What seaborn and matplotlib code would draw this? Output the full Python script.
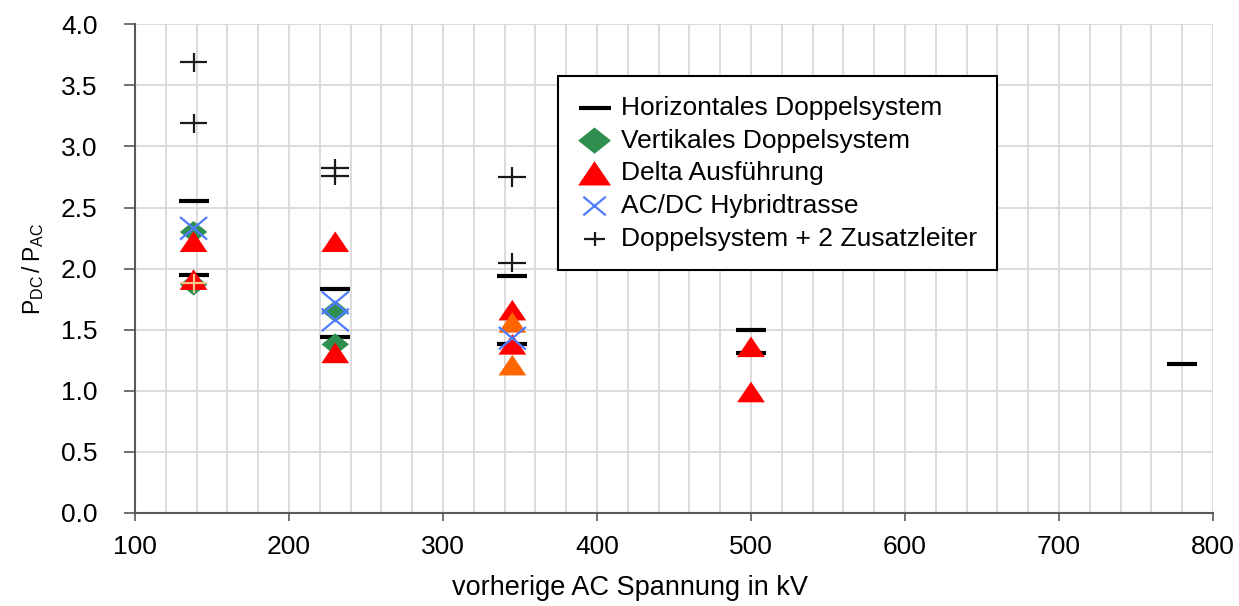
import numpy as np
import pandas as pd
import matplotlib
matplotlib.use('Agg')
import matplotlib.pyplot as plt
from matplotlib.path import Path
from matplotlib.ticker import MultipleLocator, FormatStrFormatter
import seaborn as sns

# Werte (kV, P_DC/P_AC)
hor_kv = [138, 138, 230, 230, 345, 345, 500, 500, 780]
hor_ratio = [2.55, 1.95, 1.83, 1.44, 1.94, 1.38, 1.50, 1.31, 1.22]

ver_kv = [138, 138, 230, 230]
ver_ratio = [2.30, 1.87, 1.65, 1.38]

delta_kv = [138, 138, 230, 230, 345, 345, 500, 500]
delta_ratio = [2.22, 1.91, 2.22, 1.31, 1.66, 1.38, 1.36, 0.99]

delta2_kv = [345, 345]
delta2_ratio = [1.56, 1.21]

hyb_kv = [138, 230, 230, 345]
hyb_ratio = [2.33, 1.72, 1.58, 1.43]

zus_kv = [138, 138, 230, 230, 345, 345]
zus_ratio = [3.69, 3.19, 2.82, 2.76, 2.75, 2.05]

zus2_kv = [138]
zus2_ratio = [1.88]

labels = ['Horizontales Doppelsystem', 'Vertikales Doppelsystem', 'Delta Ausführung',
          'AC/DC Hybridtrasse', 'Doppelsystem + 2 Zusatzleiter']

sns.set_style('white')
plt.rcParams['font.family'] = ['Liberation Sans', 'DejaVu Sans']
plt.rcParams['mathtext.fontset'] = 'custom'
plt.rcParams['mathtext.rm'] = 'Liberation Sans'
plt.rcParams['text.color'] = 'black'
plt.rcParams['axes.labelcolor'] = 'black'
plt.rcParams['xtick.color'] = 'black'
plt.rcParams['ytick.color'] = 'black'

# Marker etwas breiter als hoch, wie im Original
tri = Path([(-1.35, -1), (1.35, -1), (0, 1), (-1.35, -1)],
           [Path.MOVETO, Path.LINETO, Path.LINETO, Path.CLOSEPOLY])
dia = Path([(0, 1), (1.25, 0), (0, -1), (-1.25, 0), (0, 1)],
           [Path.MOVETO, Path.LINETO, Path.LINETO, Path.LINETO, Path.CLOSEPOLY])
cross = Path([(-1.2, -1), (1.2, 1), (-1.2, 1), (1.2, -1)],
             [Path.MOVETO, Path.LINETO, Path.MOVETO, Path.LINETO])
plus = Path([(-1.45, 0), (1.45, 0), (0, -1), (0, 1)],
            [Path.MOVETO, Path.LINETO, Path.MOVETO, Path.LINETO])

fig = plt.figure(figsize=(12.39, 6.06), dpi=100)
ax = fig.add_axes([0.109, 0.1535, 0.870, 0.8065])

sns.scatterplot(x=hor_kv, y=hor_ratio, marker='_', s=460, color='black',
                linewidth=3, label=labels[0], ax=ax, zorder=3)
sns.scatterplot(x=ver_kv, y=ver_ratio, marker=dia, s=390, color='#2f8f4f',
                edgecolor='none', linewidth=0, label=labels[1], ax=ax, zorder=4)
sns.scatterplot(x=delta_kv, y=delta_ratio, marker=tri, s=400, color='#ff0000',
                edgecolor='none', linewidth=0, label=labels[2], ax=ax, zorder=5)
sns.scatterplot(x=delta2_kv, y=delta2_ratio, marker=tri, s=400, color='#ff6600',
                edgecolor='none', linewidth=0, legend=False, ax=ax, zorder=5)
sns.scatterplot(x=hyb_kv, y=hyb_ratio, marker=cross, s=380, facecolor='none',
                edgecolor='#4f7cff', linewidth=1.6, label=labels[3], ax=ax, zorder=6)
sns.scatterplot(x=zus_kv, y=zus_ratio, marker=plus, s=400, facecolor='none',
                edgecolor='#1a1a1a', linewidth=1.6, label=labels[4], ax=ax, zorder=7)
sns.scatterplot(x=zus2_kv, y=zus2_ratio, marker=plus, s=400, facecolor='none',
                edgecolor='#f3c48c', linewidth=1.6, legend=False, ax=ax, zorder=7)

ax.set_xlim(100, 800)
ax.set_ylim(0, 4.0)
ax.xaxis.set_major_locator(MultipleLocator(100))
ax.xaxis.set_minor_locator(MultipleLocator(20))
ax.yaxis.set_major_locator(MultipleLocator(0.5))
ax.yaxis.set_major_formatter(FormatStrFormatter('%.1f'))
ax.grid(True, which='both', axis='x', color='#d9d9d9', linewidth=1.3)
ax.grid(True, which='major', axis='y', color='#d9d9d9', linewidth=1.3)
ax.set_axisbelow(True)

for side in ['top', 'right']:
    ax.spines[side].set_visible(False)
for side in ['left', 'bottom']:
    ax.spines[side].set_color('#595959')
    ax.spines[side].set_linewidth(1.5)

ax.tick_params(axis='y', which='major', direction='out', length=8, width=1.2,
               color='#595959', labelsize=19, pad=19, left=True)
ax.tick_params(axis='x', which='major', direction='out', length=6, width=1.2,
               color='#595959', labelsize=19, pad=10, bottom=True)
ax.tick_params(axis='x', which='minor', length=0)

ax.set_xlabel('vorherige AC Spannung in kV', fontsize=19.5)
ax.xaxis.set_label_coords(0.459, -0.127)
ax.set_ylabel(r'$\mathregular{P_{DC}\,/\,P_{AC}}$', fontsize=16.5)
ax.yaxis.set_label_coords(-0.083, 0.5)

leg = ax.legend(loc='upper left', bbox_to_anchor=(0.392, 0.894), fontsize=19,
                frameon=True, fancybox=False, edgecolor='black', framealpha=1,
                borderpad=0.75, labelspacing=0.33, handletextpad=0.35,
                handlelength=1.3, scatterpoints=1, borderaxespad=0)
leg.get_frame().set_linewidth(1.5)
for h, sz in zip(leg.legend_handles, [520, 560, 560, 260, 220]):
    h.set_sizes([sz])

fig.savefig('out.png', dpi=100)
